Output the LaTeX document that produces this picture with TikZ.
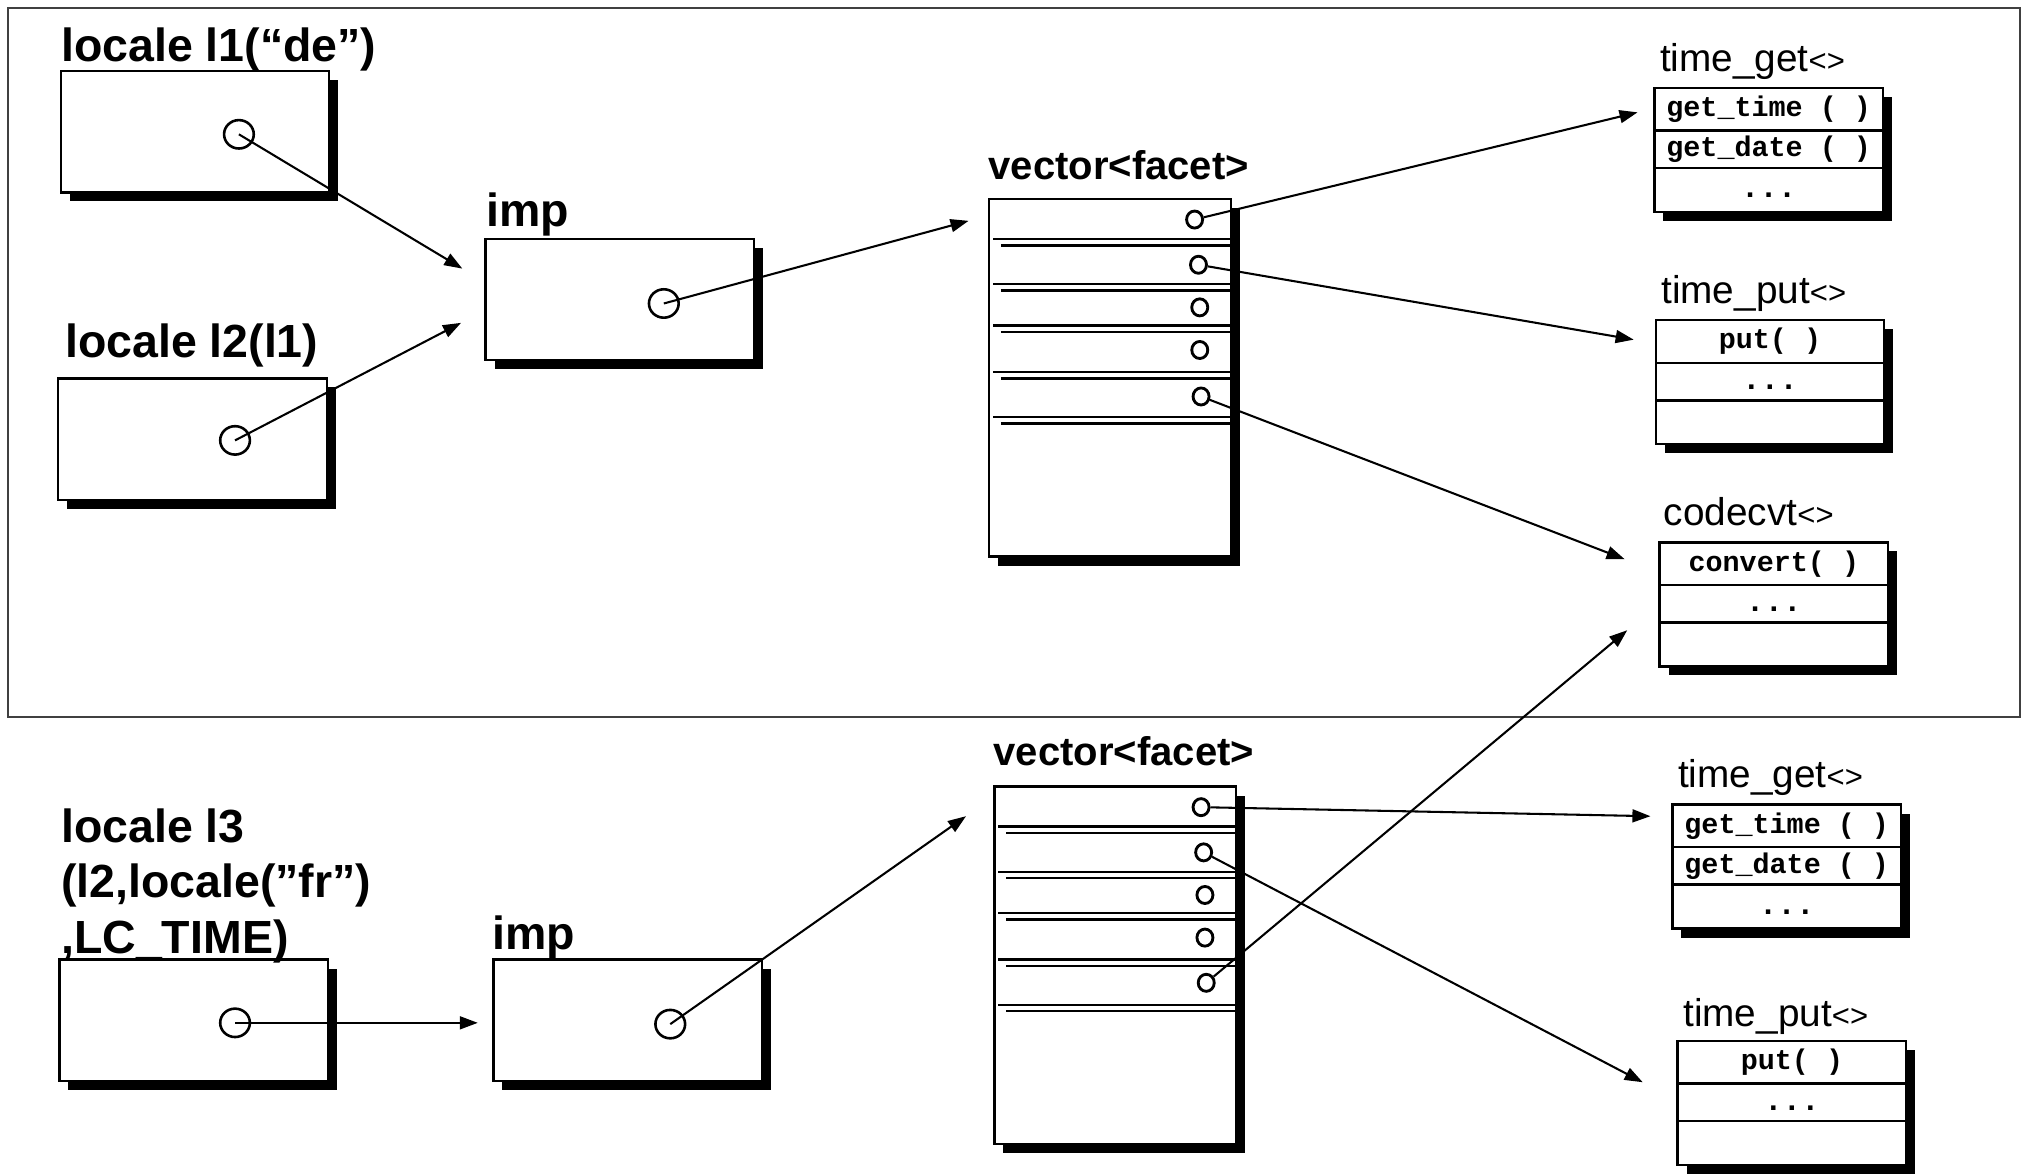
\documentclass[tikz,border=0pt]{standalone}
\usepackage{fontspec}
\setmainfont{Liberation Sans}
\newfontfamily\codefont{Liberation Mono}
\usetikzlibrary{arrows.meta,positioning,shapes.geometric,shadows}
\newcommand{\tpl}{{\fontsize{12}{14}\selectfont<>}}
\tikzset{%
  >={Triangle[width=5pt,length=7pt]},
  % Boxes with a solid black shadow
  base/.style = {rectangle, draw=black, fill=white, line width=0.9pt,
    inner sep=0pt, outer sep=0pt, anchor=north west,
    drop shadow={shadow xshift=3.5pt, shadow yshift=-3.5pt,
      fill=black, opacity=1}},
  objbox/.style = {base, minimum width=104pt, minimum height=47pt},
  vecbox/.style = {base, minimum width=93.5pt, minimum height=138.5pt},
  facetbox/.style = {base, minimum width=88.5pt, minimum height=48pt},
  % Pointers
  ptr/.style = {ellipse, draw=black, line width=1pt, inner sep=0pt,
    minimum width=11.5pt, minimum height=11pt},
  slot/.style = {ellipse, draw=black, line width=1.1pt, inner sep=0pt,
    minimum width=6.2pt, minimum height=6.6pt},
  sep/.style = {line width=0.9pt},
  % Texts
  lbl/.style = {anchor=base west, inner sep=0pt,
    font=\fontsize{18}{21.5}\selectfont\bfseries},
  veclbl/.style = {lbl, font=\fontsize{15.5}{18}\selectfont\bfseries},
  facetlbl/.style = {anchor=base west, inner sep=0pt,
    font=\fontsize{15}{18}\selectfont},
  method/.style = {inner sep=0pt, font=\codefont\fontsize{11}{13}\selectfont\bfseries},
  dots/.style = {method, font=\codefont\fontsize{12}{13}\selectfont\bfseries},
  link/.style = {->, line width=0.8pt},
}

\begin{document}
\begin{tikzpicture}[x=0.5pt, y=-0.5pt]
  \useasboundingbox (0,0) rectangle (1568,909);
  % frame round l1, l2
  \draw[black!75, line width=0.6pt] (6,6) rectangle (1564,555);

  % Boxes
  \node[objbox] (l1) at (47,55) {};
  \node[objbox] (l2) at (45,293) {};
  \node[objbox] (imp) at (376,185) {};
  \node[vecbox] (vec) at (766,154) {};
  \node[facetbox] (tget) at (1281,68) {};
  \node[facetbox] (tput) at (1282,248) {};
  \node[facetbox] (cvt) at (1285,420) {};
  \node[objbox] (l3) at (46,743) {};
  \node[objbox] (imp2) at (382,743) {};
  \node[vecbox] (vec2) at (770,609) {};
  \node[facetbox] (tget2) at (1295,623) {};
  \node[facetbox] (tput2) at (1299,806) {};

  % Titles
  \node[lbl] (l1t) at (47,48) {locale l1(“de”)};
  \node[lbl] (l2t) at (50,277) {locale l2(l1)};
  \node[lbl] (impt) at (376,175) {imp};
  \node[veclbl] (vect) at (765,139) {vector<facet>};
  \node[facetlbl] (tgett) at (1285,55) {time\_get\tpl};
  \node[facetlbl] (tputt) at (1286,235) {time\_put\tpl};
  \node[facetlbl] (cvtt) at (1288,407) {codecvt\tpl};
  \node[lbl] (l3t) at (47,652) {\begin{tabular}[t]{@{}l@{}}
      locale l3\\ (l2,locale(”fr”)\\ ,LC\_TIME)\end{tabular}};
  \node[lbl] (imp2t) at (381,735) {imp};
  \node[veclbl] (vec2t) at (769,593) {vector<facet>};
  \node[facetlbl] (tget2t) at (1299,610) {time\_get\tpl};
  \node[facetlbl] (tput2t) at (1303,795) {time\_put\tpl};

  % Facet members
  \draw[sep] (tget.north west) ++(0,33) -- ++(177,0);
  \draw[sep] (tget.north west) ++(0,62) -- ++(177,0);
  \node[method] (tget1) at ([yshift=-8.25pt]tget.north) {get\_time ( )};
  \node[method] (tget2m) at ([yshift=-23.75pt]tget.north) {get\_date ( )};
  \node[dots] (tget3) at ([yshift=-41.5pt]tget.north) {...};
  \draw[sep] (tput.north west) ++(0,33) -- ++(177,0);
  \draw[sep] (tput.north west) ++(0,62) -- ++(177,0);
  \node[method] (tput1) at ([yshift=-8.25pt]tput.north) {put( )};
  \node[dots] (tput2m) at ([yshift=-26pt]tput.north) {...};
  \draw[sep] (cvt.north west) ++(0,33) -- ++(177,0);
  \draw[sep] (cvt.north west) ++(0,62) -- ++(177,0);
  \node[method] (cvt1) at ([yshift=-8.25pt]cvt.north) {convert( )};
  \node[dots] (cvt2m) at ([yshift=-26pt]cvt.north) {...};
  \draw[sep] (tget2.north west) ++(0,33) -- ++(177,0);
  \draw[sep] (tget2.north west) ++(0,62) -- ++(177,0);
  \node[method] (tget21) at ([yshift=-8.25pt]tget2.north) {get\_time ( )};
  \node[method] (tget22) at ([yshift=-23.75pt]tget2.north) {get\_date ( )};
  \node[dots] (tget23) at ([yshift=-41.5pt]tget2.north) {...};
  \draw[sep] (tput2.north west) ++(0,33) -- ++(177,0);
  \draw[sep] (tput2.north west) ++(0,62) -- ++(177,0);
  \node[method] (tput21) at ([yshift=-8.25pt]tput2.north) {put( )};
  \node[dots] (tput22) at ([yshift=-26pt]tput2.north) {...};

  % Vector slots
  \begin{scope}[shift={(vec.north west)}]
    \foreach \i/\x/\y in {1/159/16,2/162/51,3/163/84,4/163/117,5/164/153}
      \node[slot] (v\i) at (\x,\y) {};
    \foreach \y in {31,66,98,134,169} {
      \draw[sep] (3,\y) -- (189,\y);
      \draw[sep] (9,\y+5) -- (194,\y+5);
    }
  \end{scope}
  \begin{scope}[shift={(vec2.north west)}]
    \foreach \i/\x/\y in {1/160/16,2/162/51,3/163/84,4/163/117,5/164/152}
      \node[slot] (w\i) at (\x,\y) {};
    \foreach \y in {31,66,98,134,169} {
      \draw[sep] (3,\y) -- (189,\y);
      \draw[sep] (9,\y+5) -- (194,\y+5);
    }
  \end{scope}

  % Pointers in the objects
  \node[ptr] (l1p) at (185,104) {};
  \node[ptr] (l2p) at (182,341) {};
  \node[ptr] (impp) at (514,235) {};
  \node[ptr] (l3p) at (182,792) {};
  \node[ptr] (imp2p) at (519,793) {};

  % Arrow ends
  \coordinate (impin1) at (358,208);
  \coordinate (impin2) at (357,250);
  \coordinate (vecin) at (750,171);
  \coordinate (tgetin) at (1268,87);
  \coordinate (tputin) at (1265,263);
  \coordinate (cvtin) at (1258,433);
  \coordinate (imp2in) at (370,792);
  \coordinate (vec2in) at (748,632);
  \coordinate (tget2in) at (1278,632);
  \coordinate (tput2in) at (1272,838);
  \coordinate (cvtin2) at (1260,488);

  \draw[link] (l1p.center) -- (impin1);
  \draw[link] (l2p.center) -- (impin2);
  \draw[link] (impp.center) -- (vecin);
  \draw[link] (v1) -- (tgetin);
  \draw[link] (v2) -- (tputin);
  \draw[link] (v5) -- (cvtin);
  \draw[link] (l3p.center) -- (imp2in);
  \draw[link] (imp2p.center) -- (vec2in);
  \draw[link] (w1) -- (tget2in);
  \draw[link] (w2) -- (tput2in);
  \draw[link] (w5) -- (cvtin2);
\end{tikzpicture}
\end{document}
